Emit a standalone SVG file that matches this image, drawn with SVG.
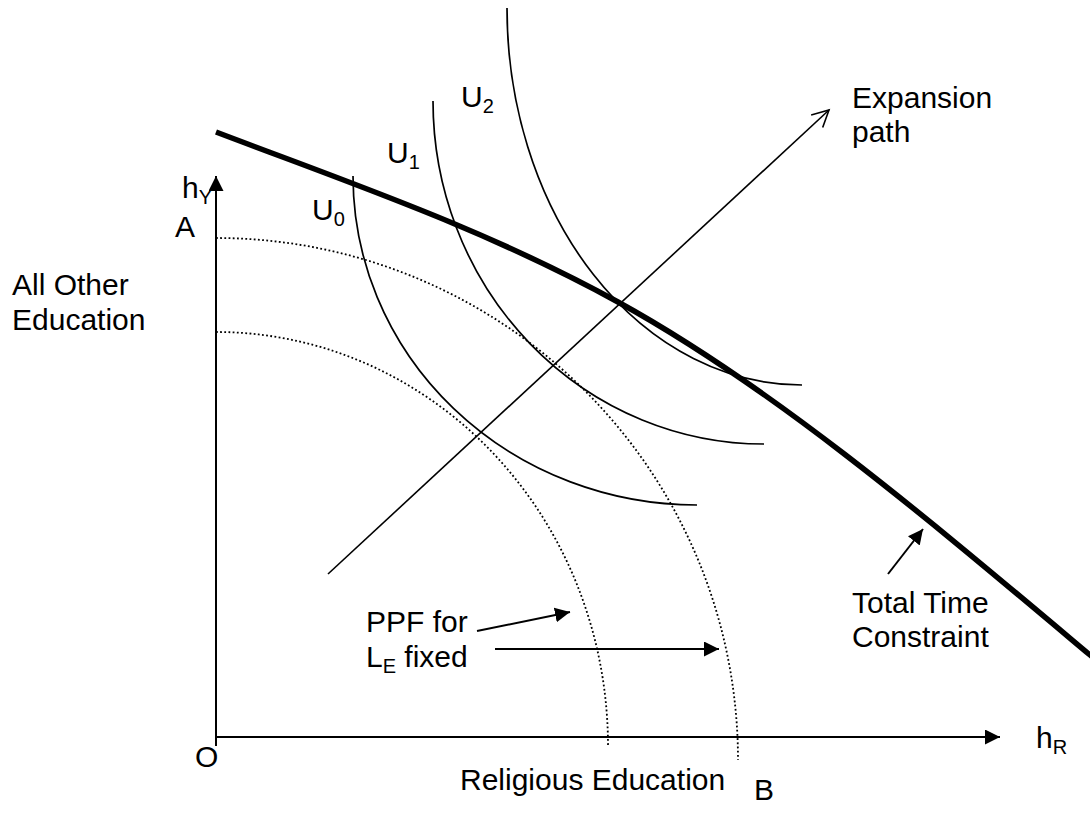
<svg xmlns="http://www.w3.org/2000/svg" width="1090" height="831" viewBox="0 0 1090 831">
<defs>
<style>
text{font-family:"Liberation Sans",Arial,sans-serif;font-size:30px;fill:#000}
.sub{font-size:20px}
.ax{stroke:#000;stroke-width:2;fill:none}
.ic{stroke:#000;stroke-width:1.7;fill:none}
.ppf{stroke:#000;stroke-width:1.8;fill:none;stroke-dasharray:1.8 2.4}
.ttc{stroke:#000;stroke-width:5.5;fill:none}
</style>
<marker id="fa" markerUnits="userSpaceOnUse" markerWidth="16" markerHeight="16" refX="15" refY="7.5" orient="auto">
<path d="M0,0 L15,7.5 L0,15 z" fill="#000"/>
</marker>
<marker id="oa" markerUnits="userSpaceOnUse" markerWidth="20" markerHeight="20" refX="17" refY="9" orient="auto">
<path d="M0.5,0.5 L17,9 L0.5,17.5" fill="none" stroke="#000" stroke-width="1.6"/>
</marker>
</defs>
<rect width="1090" height="831" fill="#fff"/>
<g id="connectors">
<g id="axes">
<line class="ax" x1="216" y1="746" x2="216" y2="176" marker-end="url(#fa)"/>
<line class="ax" x1="216" y1="737" x2="1000" y2="737" marker-end="url(#fa)"/>
</g>
<g id="ppf">
<path class="ppf" d="M216,238 A522,522 0 0 1 738,760"/>
<path class="ppf" d="M216,332 A392,414 0 0 1 608,746"/>
</g>
<g id="indifference">
<path class="ic" d="M353,176 A344,329 0 0 0 697,505"/>
<path class="ic" d="M433,101 A331,343 0 0 0 764,444"/>
<path class="ic" d="M507,8 A295,377 0 0 0 802,385"/>
</g>
<g id="constraint">
<path class="ttc" d="M216,132 C350,183 484,228.3 618,302 C775,388.4 933,523.1 1090,655 L1100,663.4"/>
</g>
<g id="expansion-path">
<line class="ax" style="stroke-width:1.6" x1="328" y1="574" x2="829" y2="110" marker-end="url(#oa)"/>
</g>
<g id="label-arrows">
<line class="ax" x1="477" y1="631" x2="570" y2="612" marker-end="url(#fa)"/>
<line class="ax" x1="495" y1="649" x2="719" y2="649" marker-end="url(#fa)"/>
<line class="ax" x1="888" y1="574" x2="923" y2="529" marker-end="url(#fa)"/>
</g>
</g>
<g id="labels">
<g id="label-hY"><text x="182" y="198">h<tspan class="sub" dy="6">Y</tspan></text></g>
<g id="label-A"><text x="175" y="237">A</text></g>
<g id="label-all-other"><text x="12" y="295">All Other</text><text x="12" y="330">Education</text></g>
<g id="label-U0"><text x="312" y="220">U<tspan class="sub" dy="6">0</tspan></text></g>
<g id="label-U1"><text x="387" y="163">U<tspan class="sub" dy="6">1</tspan></text></g>
<g id="label-U2"><text x="461" y="107">U<tspan class="sub" dy="6">2</tspan></text></g>
<g id="label-expansion"><text x="852" y="108">Expansion</text><text x="852" y="142">path</text></g>
<g id="label-ppf"><text x="366" y="632">PPF for</text><text x="366" y="667">L<tspan class="sub" dy="6">E</tspan><tspan dy="-6"> fixed</tspan></text></g>
<g id="label-ttc"><text x="852" y="613">Total Time</text><text x="852" y="647">Constraint</text></g>
<g id="label-hR"><text x="1036" y="748">h<tspan class="sub" dy="6">R</tspan></text></g>
<g id="label-O"><text x="195" y="767">O</text></g>
<g id="label-B"><text x="754" y="800">B</text></g>
<g id="label-religious"><text x="460" y="790">Religious Education</text></g>
</g>
</svg>
